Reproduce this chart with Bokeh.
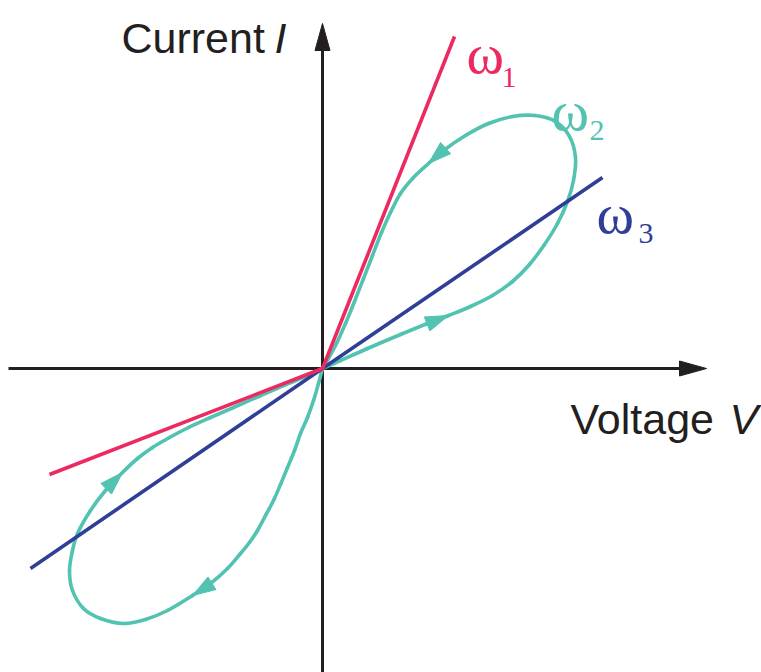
from bokeh.plotting import figure
from bokeh.models import Range1d
from bokeh.core.properties import value
from bokeh.embed import file_html
from bokeh.resources import INLINE

# --- curve data (voltage V, current I; arbitrary units) ---
# omega_1: low-frequency response, two branches meeting at the origin
w1_v = [-2.73, 0.0, 1.32]
w1_i = [-1.06, 0.0, 3.32]

# omega_3: high-frequency response, a straight line through the origin
w3_v = [-2.92, 0.0, 2.80]
w3_i = [-2.00, 0.0, 1.91]

# omega_2: pinched hysteresis loop, upper lobe (traversed anticlockwise)
w2_up_v = [0.0, 0.18, 0.45, 0.78, 1.05, 1.26, 1.48, 1.70, 1.90, 2.07, 2.22,
           2.35, 2.45, 2.51, 2.53, 2.47, 2.33, 2.13, 1.90, 1.66, 1.43, 1.21,
           1.06, 0.91, 0.78, 0.68, 0.59, 0.50, 0.41, 0.32, 0.23, 0.14, 0.06, 0.0]
w2_up_i = [0.0, 0.08, 0.20, 0.34, 0.45, 0.53, 0.62, 0.73, 0.87, 1.04, 1.24,
           1.45, 1.67, 1.88, 2.11, 2.32, 2.47, 2.53, 2.52, 2.45, 2.33, 2.18,
           2.05, 1.91, 1.75, 1.56, 1.36, 1.13, 0.90, 0.67, 0.45, 0.25, 0.10, 0.0]

# omega_2: lower lobe
w2_lo_v = [0.0, -0.04, -0.09, -0.15, -0.22, -0.28, -0.35, -0.42, -0.49, -0.57,
           -0.65, -0.73, -0.82, -0.95, -1.12, -1.30, -1.55, -1.77, -1.99, -2.22,
           -2.39, -2.50, -2.53, -2.50, -2.45, -2.32, -2.17, -2.00, -1.85, -1.70,
           -1.53, -1.34, -1.12, -0.89, -0.64, -0.39, -0.17, 0.0]
w2_lo_i = [0.0, -0.15, -0.32, -0.49, -0.65, -0.82, -0.99, -1.16, -1.32, -1.47,
           -1.62, -1.74, -1.85, -2.00, -2.15, -2.27, -2.42, -2.51, -2.55, -2.50,
           -2.40, -2.22, -2.02, -1.82, -1.65, -1.42, -1.22, -1.04, -0.90, -0.79,
           -0.69, -0.59, -0.49, -0.39, -0.28, -0.17, -0.08, 0.0]

# points along each lobe where a direction arrow sits
up_arrow_idx = [5, 22]
lo_arrow_idx = [15, 27]

RED = "#ec2a5f"
TEAL = "#52c2b1"
BLUE = "#2f3f97"
INK = "#231f20"
LW = 3.6

p = figure(width=761, height=672, output_backend="svg", toolbar_location=None,
           x_range=Range1d(-3.22, 4.39), y_range=Range1d(-3.04, 3.68),
           min_border=0)
p.axis.visible = False
p.grid.visible = False
p.outline_line_color = None
p.background_fill_color = "white"


def head(tip_x, tip_y, dx, dy, length, half_w):
    """Triangle with its tip at (tip_x, tip_y) pointing along (dx, dy)."""
    n = (dx * dx + dy * dy) ** 0.5
    ux, uy = dx / n, dy / n
    bx, by = tip_x - ux * length, tip_y - uy * length
    return ([tip_x, bx - uy * half_w, bx + uy * half_w],
            [tip_y, by + ux * half_w, by - ux * half_w])


def smooth_segments(xs, ys):
    """Catmull-Rom control points so the curve passes through every sample."""
    n = len(xs)
    seg = {k: [] for k in ("x0", "y0", "x1", "y1", "cx0", "cy0", "cx1", "cy1")}
    for i in range(n - 1):
        a = max(i - 1, 0)
        d = min(i + 2, n - 1)
        seg["x0"].append(xs[i]); seg["y0"].append(ys[i])
        seg["x1"].append(xs[i + 1]); seg["y1"].append(ys[i + 1])
        seg["cx0"].append(xs[i] + (xs[i + 1] - xs[a]) / 6)
        seg["cy0"].append(ys[i] + (ys[i + 1] - ys[a]) / 6)
        seg["cx1"].append(xs[i + 1] - (xs[d] - xs[i]) / 6)
        seg["cy1"].append(ys[i + 1] - (ys[d] - ys[i]) / 6)
    return seg


# coordinate axes with arrow heads
h_left, h_tip = -3.14, 3.84
v_bottom, v_tip = -3.04, 3.45
ax_len, ax_hw = 0.27, 0.075
p.line([h_left, h_tip - ax_len], [0, 0], line_color=INK, line_width=3)
p.line([0, 0], [v_bottom, v_tip - ax_len], line_color=INK, line_width=3)
hx, hy = head(h_tip, 0, 1, 0, ax_len, ax_hw)
vx, vy = head(0, v_tip, 0, 1, ax_len, ax_hw)
p.patches([hx, vx], [hy, vy], fill_color=INK, line_color=INK, line_width=1)

# omega_2 loop
for xs, ys in ((w2_up_v, w2_up_i), (w2_lo_v, w2_lo_i)):
    p.bezier(source=smooth_segments(xs, ys), x0="x0", y0="y0", x1="x1", y1="y1",
             cx0="cx0", cy0="cy0", cx1="cx1", cy1="cy1",
             line_color=TEAL, line_width=LW, line_cap="round")

tri_x, tri_y = [], []
for xs, ys, idxs in ((w2_up_v, w2_up_i, up_arrow_idx),
                     (w2_lo_v, w2_lo_i, lo_arrow_idx)):
    for k in idxs:
        tx, ty = head(xs[k], ys[k], xs[k + 1] - xs[k - 1], ys[k + 1] - ys[k - 1],
                      0.23, 0.075)
        tri_x.append(tx)
        tri_y.append(ty)
p.patches(tri_x, tri_y, fill_color=TEAL, line_color=TEAL, line_width=1)

# omega_3 and omega_1
p.line(w3_v, w3_i, line_color=BLUE, line_width=LW)
p.line(w1_v, w1_i, line_color=RED, line_width=LW, line_join="miter")

# axis titles
sans = value("Liberation Sans")
p.text(x=[-2.01], y=[3.31], text=["Current"], text_font=sans,
       text_font_size="43px", text_color=INK, text_baseline="alphabetic")
p.text(x=[-0.48], y=[3.31], text=["I"], text_font=sans, text_font_style="italic",
       text_font_size="43px", text_color=INK, text_baseline="alphabetic")
p.text(x=[2.48], y=[-0.50], text=["Voltage"], text_font=sans,
       text_font_size="43px", text_color=INK, text_baseline="alphabetic")
p.text(x=[4.07], y=[-0.50], text=["V"], text_font=sans, text_font_style="italic",
       text_font_size="43px", text_color=INK, text_baseline="alphabetic")

# frequency labels
serif = value("Liberation Serif")
for (x, y, sx, sy, sub, col) in ((1.44, 3.15, 1.79, 2.91, "1", RED),
                                 (2.29, 2.58, 2.67, 2.38, "2", TEAL),
                                 (2.74, 1.55, 3.16, 1.35, "3", BLUE)):
    p.text(x=[x], y=[y], text=["ω"], text_font=serif, text_font_size="57px",
           text_color=col, text_baseline="alphabetic")
    p.text(x=[sx], y=[sy], text=[sub], text_font=serif, text_font_size="30px",
           text_color=col, text_baseline="alphabetic")

open("out.html", "w").write(file_html(p, INLINE))
